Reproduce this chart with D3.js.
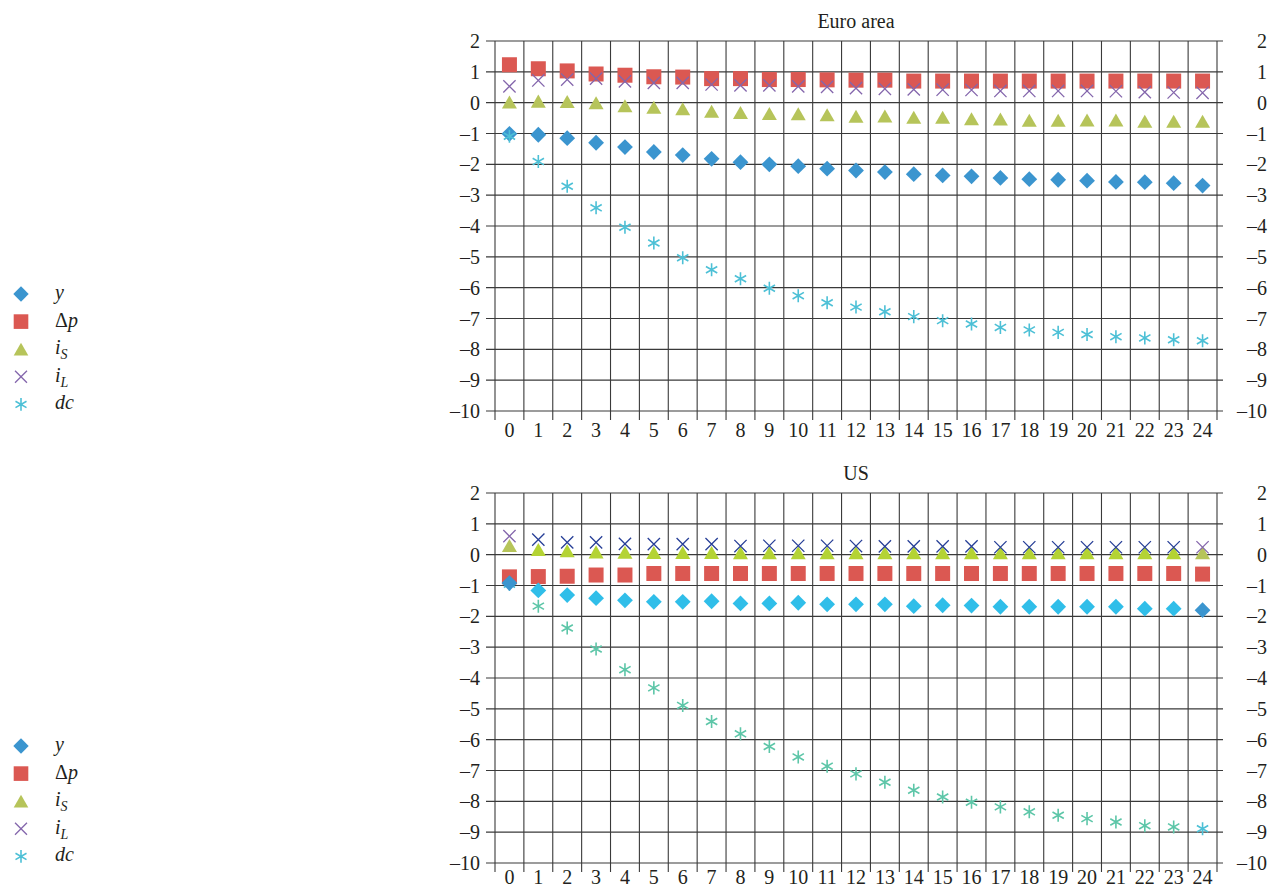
<!DOCTYPE html>
<html>
<head>
<meta charset="utf-8">
<script src="https://cdn.jsdelivr.net/npm/d3@7"></script>
<style>
  body { margin: 0; background: #fff; }
  svg { display: block; }
  text { font-family: "Liberation Serif", "Times New Roman", serif; fill: #231f20; }
</style>
</head>
<body>
<svg id="chart" width="1268" height="888"></svg>
<script>
// horizon (periods) and y axis ticks
var periods = [0, 1, 2, 3, 4, 5, 6, 7, 8, 9, 10, 11, 12, 13, 14, 15, 16, 17, 18, 19, 20, 21, 22, 23, 24];
var yTicks = [2, 1, 0, -1, -2, -3, -4, -5, -6, -7, -8, -9, -10];
var seriesKeys = ["y", "dp", "iS", "iL", "dc"];

// Euro area responses
var euroY  = [-1.01, -1.04, -1.15, -1.30, -1.44, -1.60, -1.70, -1.82, -1.93, -2.00, -2.06, -2.14, -2.20, -2.25, -2.32, -2.36, -2.39, -2.44, -2.48, -2.50, -2.53, -2.57, -2.58, -2.61, -2.69];
var euroDp = [1.23, 1.10, 1.03, 0.93, 0.89, 0.84, 0.83, 0.78, 0.78, 0.75, 0.75, 0.74, 0.73, 0.73, 0.70, 0.70, 0.70, 0.70, 0.70, 0.70, 0.70, 0.70, 0.70, 0.70, 0.70];
var euroIs = [0.02, 0.05, 0.04, 0.00, -0.10, -0.15, -0.20, -0.28, -0.32, -0.35, -0.36, -0.39, -0.44, -0.43, -0.47, -0.47, -0.52, -0.53, -0.57, -0.57, -0.56, -0.56, -0.60, -0.60, -0.60];
var euroIl = [0.53, 0.72, 0.75, 0.78, 0.69, 0.64, 0.64, 0.59, 0.56, 0.56, 0.53, 0.51, 0.47, 0.45, 0.43, 0.42, 0.41, 0.38, 0.38, 0.38, 0.38, 0.37, 0.34, 0.33, 0.32];
var euroDc = [-1.09, -1.91, -2.71, -3.41, -4.04, -4.55, -5.03, -5.42, -5.71, -6.02, -6.26, -6.49, -6.63, -6.78, -6.94, -7.07, -7.18, -7.29, -7.37, -7.45, -7.52, -7.59, -7.63, -7.69, -7.72];

// US responses
var usY  = [-0.92, -1.16, -1.31, -1.41, -1.48, -1.53, -1.53, -1.51, -1.58, -1.58, -1.56, -1.61, -1.61, -1.61, -1.67, -1.64, -1.65, -1.69, -1.69, -1.69, -1.69, -1.69, -1.75, -1.75, -1.80];
var usDp = [-0.72, -0.71, -0.70, -0.66, -0.66, -0.61, -0.61, -0.61, -0.61, -0.61, -0.61, -0.61, -0.61, -0.61, -0.61, -0.61, -0.61, -0.61, -0.61, -0.61, -0.61, -0.61, -0.61, -0.61, -0.63];
var usIs = [0.30, 0.17, 0.13, 0.09, 0.08, 0.07, 0.07, 0.07, 0.06, 0.06, 0.06, 0.06, 0.06, 0.06, 0.06, 0.06, 0.06, 0.06, 0.06, 0.06, 0.06, 0.06, 0.06, 0.06, 0.06];
var usIl = [0.60, 0.49, 0.40, 0.40, 0.35, 0.34, 0.34, 0.34, 0.28, 0.29, 0.29, 0.29, 0.28, 0.27, 0.27, 0.27, 0.27, 0.24, 0.24, 0.24, 0.24, 0.24, 0.24, 0.24, 0.24];
var usDc = [-0.96, -1.67, -2.38, -3.06, -3.73, -4.32, -4.89, -5.41, -5.81, -6.22, -6.56, -6.86, -7.11, -7.38, -7.64, -7.86, -8.03, -8.18, -8.34, -8.45, -8.56, -8.67, -8.79, -8.83, -8.89];

var colors = { y: "#3b95cf", dp: "#db5852", iS: "#b6c45a", iL: "#8466ac", dc: "#4dc0d6" };
// the US panel uses other shades for the inner periods
var usInnerColors = { y: "#30bee9", dp: "#db5852", iS: "#b4d334", iL: "#273f97", dc: "#5dc6a8" };

var panels = [
  { title: "Euro area", top: 41, bottom: 411, data: { y: euroY, dp: euroDp, iS: euroIs, iL: euroIl, dc: euroDc },
    order: ["y", "dp", "iS", "iL", "dc"], inner: null, labelDy: 26 },
  { title: "US", top: 493, bottom: 863, data: { y: usY, dp: usDp, iS: usIs, iL: usIl, dc: usDc },
    order: ["dc", "dp", "iS", "iL", "y"], inner: usInnerColors, labelDy: 21 }
];

var svg = d3.select("#chart");
var left = 495, right = 1217;

var x = d3.scaleBand().domain(periods).range([left, right]).padding(0);
// typeset-style dash for negatives
var fmt = d3.formatLocale({ decimal: ".", thousands: ",", grouping: [3], currency: ["", ""], minus: "\u2013" }).format("d");

// bbox-centred triangle, like the spreadsheet markers
var triangle = {
  draw: function(ctx, size) {
    var w = Math.sqrt(size * 2 / 0.87), h = w * 0.87;
    ctx.moveTo(0, -h / 2);
    ctx.lineTo(w / 2, h / 2);
    ctx.lineTo(-w / 2, h / 2);
    ctx.closePath();
  }
};

var markers = {
  y:  { type: d3.symbolSquare, size: 125, rotate: 45, fill: true, sw: 0 },
  dp: { type: d3.symbolSquare, size: 225, rotate: 0, fill: true, sw: 0 },
  iS: { type: triangle, size: 98, rotate: 0, fill: true, sw: 0 },
  iL: { type: d3.symbolTimes, size: 100, rotate: 0, fill: false, sw: 1.3 },
  dc: { type: d3.symbolAsterisk, size: 120, rotate: 0, fill: false, sw: 1.6 }
};

panels.forEach(function(p) {
  var y = d3.scaleLinear().domain([-10, 2]).range([p.bottom, p.top]);
  var g = svg.append("g");

  // horizontal grid + side ticks
  g.selectAll("line.h").data(yTicks).enter().append("line")
    .attr("x1", left - 9).attr("x2", right + 6)
    .attr("y1", function(d) { return y(d); }).attr("y2", function(d) { return y(d); })
    .attr("stroke", "#3a3a3a").attr("stroke-width", 1.1);

  // vertical grid at band edges, extended down as ticks
  var edges = periods.map(function(d) { return x(d); }).concat([right]);
  g.selectAll("line.v").data(edges).enter().append("line")
    .attr("x1", function(d) { return d; }).attr("x2", function(d) { return d; })
    .attr("y1", p.top).attr("y2", p.bottom + 9)
    .attr("stroke", "#3a3a3a").attr("stroke-width", 1.1);

  // y labels on both sides
  g.selectAll("text.yl").data(yTicks).enter().append("text")
    .attr("x", 480).attr("y", function(d) { return y(d) + 7; })
    .attr("text-anchor", "end").attr("font-size", 20)
    .text(fmt);
  g.selectAll("text.yr").data(yTicks).enter().append("text")
    .attr("x", 1267).attr("y", function(d) { return y(d) + 7; })
    .attr("text-anchor", "end").attr("font-size", 20)
    .text(fmt);

  // x labels
  g.selectAll("text.xl").data(periods).enter().append("text")
    .attr("x", function(d) { return x(d) + x.bandwidth() / 2; })
    .attr("y", p.bottom + p.labelDy)
    .attr("text-anchor", "middle").attr("font-size", 20)
    .text(function(d) { return d; });

  // title
  g.append("text").attr("x", (left + right) / 2).attr("y", p.top - 13)
    .attr("text-anchor", "middle").attr("font-size", 20).text(p.title);

  // points
  p.order.forEach(function(key) {
    var vals = p.data[key];
    var m = markers[key];
    var pts = g.selectAll(null).data(periods).enter().append("g")
      .attr("transform", function(d, i) { return "translate(" + (x(d) + x.bandwidth() / 2) + "," + y(vals[i]) + ")"; });
    pts.append("path")
      .attr("d", d3.symbol().type(m.type).size(m.size)())
      .attr("transform", m.rotate ? "rotate(" + m.rotate + ")" : null)
      .each(function(d, i) {
        var c = colors[key];
        if (p.inner && i > 0 && i < periods.length - 1) c = p.inner[key];
        d3.select(this)
          .attr("fill", m.fill ? c : "none")
          .attr("stroke", m.fill ? "none" : c)
          .attr("stroke-width", m.sw);
      });
  });

  // legend
  var lg = svg.append("g");
  seriesKeys.forEach(function(key, i) {
    var cy = p.top + 253 + i * 27.6;
    var m = markers[key];
    lg.append("path")
      .attr("d", d3.symbol().type(m.type).size(m.size * 0.95)())
      .attr("transform", "translate(21," + cy + ")" + (m.rotate ? " rotate(" + m.rotate + ")" : ""))
      .attr("fill", m.fill ? colors[key] : "none")
      .attr("stroke", m.fill ? "none" : colors[key])
      .attr("stroke-width", m.sw);

    var t = lg.append("text").attr("x", 55).attr("y", cy + 5)
      .attr("font-size", 20).attr("font-style", "italic");
    if (key === "y") t.text("y");
    if (key === "dp") {
      t.append("tspan").attr("font-style", "normal").text("Δ");
      t.append("tspan").text("p");
    }
    if (key === "iS" || key === "iL") {
      t.append("tspan").text("i");
      t.append("tspan").attr("font-size", 14).attr("dy", 5).text(key === "iS" ? "S" : "L");
    }
    if (key === "dc") t.text("dc");
  });
});
</script>
</body>
</html>
